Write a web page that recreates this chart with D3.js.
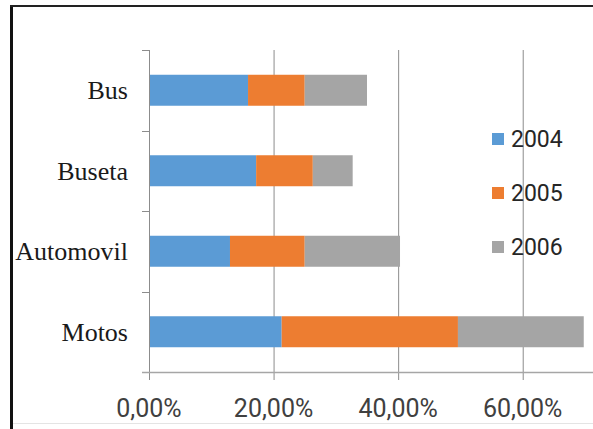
<!DOCTYPE html>
<html>
<head>
<meta charset="utf-8">
<script src="https://cdn.jsdelivr.net/npm/d3@7"></script>
<style>
  body { margin: 0; background: #fff; }
  svg { display: block; }
</style>
</head>
<body>
<svg width="593" height="429"></svg>
<script>
// categories top to bottom
var categories = ["Bus", "Buseta", "Automovil", "Motos"];
var years = ["2004", "2005", "2006"];
// percent per year, same order as categories
var v2004 = [15.9, 17.2, 13.0, 21.3];
var v2005 = [9.1, 9.1, 12.0, 28.3];
var v2006 = [10.0, 6.4, 15.3, 20.2];
var xTicks = [0, 20, 40, 60];

var colors = ["#5B9BD5", "#ED7D31", "#A5A5A5"];

var svg = d3.select("svg"),
    width = +svg.attr("width"),
    height = +svg.attr("height");

// frame
svg.append("line").attr("x1", 11.5).attr("x2", 11.5).attr("y1", 5).attr("y2", height)
    .attr("stroke", "#111").attr("stroke-width", 3);
svg.append("line").attr("x1", 10).attr("x2", width).attr("y1", 6).attr("y2", 6)
    .attr("stroke", "#222").attr("stroke-width", 2);
svg.append("line").attr("x1", 13).attr("x2", width).attr("y1", 423.5).attr("y2", 423.5)
    .attr("stroke", "#e4e4e4").attr("stroke-width", 1);

var rows = categories.map(function(c, i) {
  return {cat: c, "2004": v2004[i], "2005": v2005[i], "2006": v2006[i]};
});

var x = d3.scaleLinear().domain([0, 70]).range([149, 585]);
var y = d3.scaleBand().domain(categories).range([50, 372])
    .paddingInner(0.615).paddingOuter(0.3075);

// gridlines
svg.append("g").selectAll("line")
    .data(xTicks.slice(1))
    .enter().append("line")
      .attr("x1", function(d) { return x(d) + 0.5; })
      .attr("x2", function(d) { return x(d) + 0.5; })
      .attr("y1", 50).attr("y2", 380)
      .attr("stroke", "#8c8c8c").attr("stroke-width", 1);

var stack = d3.stack().keys(years)(rows);

svg.append("g").selectAll("g")
    .data(stack)
    .enter().append("g")
      .attr("fill", function(d, i) { return colors[i]; })
    .selectAll("rect")
    .data(function(d) { return d; })
    .enter().append("rect")
      .attr("x", function(d) { return x(d[0]); })
      .attr("width", function(d) { return x(d[1]) - x(d[0]); })
      .attr("y", function(d) { return y(d.data.cat); })
      .attr("height", y.bandwidth());

// y axis with boundary ticks
var yAxis = svg.append("g");
yAxis.append("line").attr("x1", 149.5).attr("x2", 149.5).attr("y1", 50).attr("y2", 380)
    .attr("stroke", "#8c8c8c");
var step = y.step();
yAxis.selectAll("line.tk")
    .data(d3.range(categories.length + 1))
    .enter().append("line")
      .attr("class", "tk")
      .attr("x1", 142).attr("x2", 149)
      .attr("y1", function(d) { return Math.round(50 + d * step) + 0.5; })
      .attr("y2", function(d) { return Math.round(50 + d * step) + 0.5; })
      .attr("stroke", "#8c8c8c");

// x axis baseline
svg.append("line").attr("x1", 142).attr("x2", width).attr("y1", 372.5).attr("y2", 372.5)
    .attr("stroke", "#a6a6a6").attr("stroke-width", 1.5);

// category labels
svg.append("g").selectAll("text")
    .data(categories)
    .enter().append("text")
      .attr("x", 128)
      .attr("y", function(d) { return y(d) + y.bandwidth() / 2; })
      .attr("dy", "0.35em")
      .attr("text-anchor", "end")
      .attr("font-family", "'Liberation Serif', 'Times New Roman', serif")
      .attr("font-size", 26)
      .attr("fill", "#1a1a1a")
      .text(function(d) { return d; });

// x tick labels
var fmt = function(d) { return d.toFixed(2).replace(".", ",") + "%"; };
svg.append("g").selectAll("text")
    .data(xTicks)
    .enter().append("text")
      .attr("x", function(d) { return x(d); })
      .attr("y", 417)
      .attr("text-anchor", "middle")
      .attr("font-family", "Roboto, sans-serif")
      .attr("font-size", 25)
      .attr("fill", "#404040")
      .text(fmt);

// legend
var legend = svg.append("g").selectAll("g")
    .data(years)
    .enter().append("g")
      .attr("transform", function(d, i) { return "translate(492," + (139 + i * 54) + ")"; });
legend.append("rect")
    .attr("x", 0).attr("y", -6).attr("width", 12).attr("height", 12)
    .attr("fill", function(d, i) { return colors[i]; });
legend.append("text")
    .attr("x", 19).attr("y", 0).attr("dy", "0.36em")
    .attr("font-family", "Roboto, sans-serif")
    .attr("font-size", 23)
    .attr("fill", "#262626")
    .text(function(d) { return d; });
</script>
</body>
</html>
